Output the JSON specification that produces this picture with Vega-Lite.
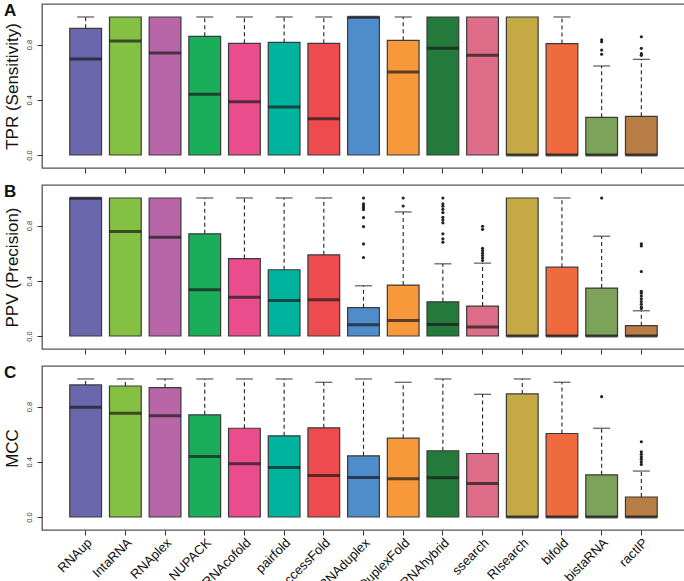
{
  "$schema": "https://vega.github.io/schema/vega-lite/v6.json",
  "padding": {"left": 2, "top": 1, "right": 1, "bottom": 0},
  "spacing": 7,
  "config": {
    "font": "Liberation Sans",
    "view": {"stroke": "#555555", "strokeWidth": 1.3},
    "axis": {"grid": false, "domain": false, "tickColor": "#333333", "tickSize": 5, "labelColor": "#333333", "titleColor": "#111111"},
    "axisY": {"labelOverlap": false, "labelBound": false, "labelAngle": -90, "labelAlign": "center", "labelBaseline": "bottom", "labelFontSize": 7.5, "labelPadding": 4, "titleFontSize": 17, "titleFontWeight": "normal", "titlePadding": 4},
    "title": {"anchor": "start", "frame": "group", "fontSize": 17, "fontWeight": "bold", "color": "#111111", "baseline": "top", "offset": 0, "dx": -38, "dy": 20}
  },
  "datasets": {
    "boxes": [
      {"panel": "A", "tool": "RNAup", "q1": 0, "median": 0.696, "q3": 0.918, "whisk": 1.0},
      {"panel": "A", "tool": "IntaRNA", "q1": 0, "median": 0.826, "q3": 1.0, "whisk": 1.0},
      {"panel": "A", "tool": "RNAplex", "q1": 0, "median": 0.739, "q3": 1.0, "whisk": 1.0},
      {"panel": "A", "tool": "NUPACK", "q1": 0, "median": 0.44, "q3": 0.86, "whisk": 1.0},
      {"panel": "A", "tool": "RNAcofold", "q1": 0, "median": 0.386, "q3": 0.809, "whisk": 1.0},
      {"panel": "A", "tool": "pairfold", "q1": 0, "median": 0.348, "q3": 0.816, "whisk": 1.0},
      {"panel": "A", "tool": "AccessFold", "q1": 0, "median": 0.263, "q3": 0.809, "whisk": 1.0},
      {"panel": "A", "tool": "RNAduplex", "q1": 0, "median": 0.998, "q3": 1.0, "whisk": 1.0},
      {"panel": "A", "tool": "DuplexFold", "q1": 0, "median": 0.601, "q3": 0.831, "whisk": 1.0},
      {"panel": "A", "tool": "RNAhybrid", "q1": 0, "median": 0.773, "q3": 1.0, "whisk": 1.0},
      {"panel": "A", "tool": "ssearch", "q1": 0, "median": 0.722, "q3": 1.0, "whisk": 1.0},
      {"panel": "A", "tool": "RIsearch", "q1": 0, "median": 0.0, "q3": 1.0, "whisk": 1.0},
      {"panel": "A", "tool": "bifold", "q1": 0, "median": 0.0, "q3": 0.807, "whisk": 1.0},
      {"panel": "A", "tool": "bistaRNA", "q1": 0, "median": 0.0, "q3": 0.273, "whisk": 0.645},
      {"panel": "A", "tool": "ractIP", "q1": 0, "median": 0.0, "q3": 0.28, "whisk": 0.693},
      {"panel": "B", "tool": "RNAup", "q1": 0, "median": 0.998, "q3": 1.0, "whisk": 1.0},
      {"panel": "B", "tool": "IntaRNA", "q1": 0, "median": 0.757, "q3": 1.0, "whisk": 1.0},
      {"panel": "B", "tool": "RNAplex", "q1": 0, "median": 0.716, "q3": 1.0, "whisk": 1.0},
      {"panel": "B", "tool": "NUPACK", "q1": 0, "median": 0.335, "q3": 0.74, "whisk": 1.0},
      {"panel": "B", "tool": "RNAcofold", "q1": 0, "median": 0.28, "q3": 0.561, "whisk": 1.0},
      {"panel": "B", "tool": "pairfold", "q1": 0, "median": 0.258, "q3": 0.48, "whisk": 1.0},
      {"panel": "B", "tool": "AccessFold", "q1": 0, "median": 0.263, "q3": 0.588, "whisk": 1.0},
      {"panel": "B", "tool": "RNAduplex", "q1": 0, "median": 0.082, "q3": 0.205, "whisk": 0.364},
      {"panel": "B", "tool": "DuplexFold", "q1": 0, "median": 0.113, "q3": 0.369, "whisk": 0.899},
      {"panel": "B", "tool": "RNAhybrid", "q1": 0, "median": 0.084, "q3": 0.248, "whisk": 0.523},
      {"panel": "B", "tool": "ssearch", "q1": 0, "median": 0.065, "q3": 0.217, "whisk": 0.528},
      {"panel": "B", "tool": "RIsearch", "q1": 0, "median": 0.0, "q3": 1.0, "whisk": 1.0},
      {"panel": "B", "tool": "bifold", "q1": 0, "median": 0.0, "q3": 0.499, "whisk": 1.0},
      {"panel": "B", "tool": "bistaRNA", "q1": 0, "median": 0.0, "q3": 0.347, "whisk": 0.723},
      {"panel": "B", "tool": "ractIP", "q1": 0, "median": 0.0, "q3": 0.075, "whisk": 0.183},
      {"panel": "C", "tool": "RNAup", "q1": 0, "median": 0.795, "q3": 0.957, "whisk": 1.0},
      {"panel": "C", "tool": "IntaRNA", "q1": 0, "median": 0.752, "q3": 0.949, "whisk": 1.0},
      {"panel": "C", "tool": "RNAplex", "q1": 0, "median": 0.733, "q3": 0.937, "whisk": 1.0},
      {"panel": "C", "tool": "NUPACK", "q1": 0, "median": 0.439, "q3": 0.74, "whisk": 1.0},
      {"panel": "C", "tool": "RNAcofold", "q1": 0, "median": 0.386, "q3": 0.643, "whisk": 1.0},
      {"panel": "C", "tool": "pairfold", "q1": 0, "median": 0.359, "q3": 0.588, "whisk": 1.0},
      {"panel": "C", "tool": "AccessFold", "q1": 0, "median": 0.301, "q3": 0.646, "whisk": 0.976},
      {"panel": "C", "tool": "RNAduplex", "q1": 0, "median": 0.287, "q3": 0.443, "whisk": 1.0},
      {"panel": "C", "tool": "DuplexFold", "q1": 0, "median": 0.277, "q3": 0.571, "whisk": 0.976},
      {"panel": "C", "tool": "RNAhybrid", "q1": 0, "median": 0.284, "q3": 0.48, "whisk": 1.0},
      {"panel": "C", "tool": "ssearch", "q1": 0, "median": 0.243, "q3": 0.46, "whisk": 0.889},
      {"panel": "C", "tool": "RIsearch", "q1": 0, "median": 0.0, "q3": 0.892, "whisk": 1.0},
      {"panel": "C", "tool": "bifold", "q1": 0, "median": 0.0, "q3": 0.605, "whisk": 0.976},
      {"panel": "C", "tool": "bistaRNA", "q1": 0, "median": 0.0, "q3": 0.306, "whisk": 0.643},
      {"panel": "C", "tool": "ractIP", "q1": 0, "median": 0.0, "q3": 0.145, "whisk": 0.333}
    ],
    "outliers": [
      {"panel": "A", "tool": "bistaRNA", "value": 0.835},
      {"panel": "A", "tool": "bistaRNA", "value": 0.82},
      {"panel": "A", "tool": "bistaRNA", "value": 0.76},
      {"panel": "A", "tool": "bistaRNA", "value": 0.73},
      {"panel": "A", "tool": "ractIP", "value": 0.857},
      {"panel": "A", "tool": "ractIP", "value": 0.773},
      {"panel": "A", "tool": "ractIP", "value": 0.734},
      {"panel": "A", "tool": "ractIP", "value": 0.722},
      {"panel": "B", "tool": "RNAduplex", "value": 1.0},
      {"panel": "B", "tool": "RNAduplex", "value": 0.957},
      {"panel": "B", "tool": "RNAduplex", "value": 0.942},
      {"panel": "B", "tool": "RNAduplex", "value": 0.93},
      {"panel": "B", "tool": "RNAduplex", "value": 0.916},
      {"panel": "B", "tool": "RNAduplex", "value": 0.858},
      {"panel": "B", "tool": "RNAduplex", "value": 0.793},
      {"panel": "B", "tool": "RNAduplex", "value": 0.667},
      {"panel": "B", "tool": "RNAduplex", "value": 0.569},
      {"panel": "B", "tool": "DuplexFold", "value": 1.0},
      {"panel": "B", "tool": "DuplexFold", "value": 0.942},
      {"panel": "B", "tool": "RNAhybrid", "value": 1.0},
      {"panel": "B", "tool": "RNAhybrid", "value": 0.957},
      {"panel": "B", "tool": "RNAhybrid", "value": 0.94},
      {"panel": "B", "tool": "RNAhybrid", "value": 0.918},
      {"panel": "B", "tool": "RNAhybrid", "value": 0.894},
      {"panel": "B", "tool": "RNAhybrid", "value": 0.86},
      {"panel": "B", "tool": "RNAhybrid", "value": 0.84},
      {"panel": "B", "tool": "RNAhybrid", "value": 0.82},
      {"panel": "B", "tool": "RNAhybrid", "value": 0.74},
      {"panel": "B", "tool": "RNAhybrid", "value": 0.704},
      {"panel": "B", "tool": "RNAhybrid", "value": 0.68},
      {"panel": "B", "tool": "ssearch", "value": 0.795},
      {"panel": "B", "tool": "ssearch", "value": 0.773},
      {"panel": "B", "tool": "ssearch", "value": 0.636},
      {"panel": "B", "tool": "ssearch", "value": 0.619},
      {"panel": "B", "tool": "ssearch", "value": 0.6},
      {"panel": "B", "tool": "ssearch", "value": 0.583},
      {"panel": "B", "tool": "ssearch", "value": 0.566},
      {"panel": "B", "tool": "ssearch", "value": 0.547},
      {"panel": "B", "tool": "bistaRNA", "value": 1.0},
      {"panel": "B", "tool": "ractIP", "value": 0.667},
      {"panel": "B", "tool": "ractIP", "value": 0.653},
      {"panel": "B", "tool": "ractIP", "value": 0.467},
      {"panel": "B", "tool": "ractIP", "value": 0.323},
      {"panel": "B", "tool": "ractIP", "value": 0.31},
      {"panel": "B", "tool": "ractIP", "value": 0.29},
      {"panel": "B", "tool": "ractIP", "value": 0.27},
      {"panel": "B", "tool": "ractIP", "value": 0.25},
      {"panel": "B", "tool": "ractIP", "value": 0.23},
      {"panel": "B", "tool": "ractIP", "value": 0.21},
      {"panel": "B", "tool": "ractIP", "value": 0.2},
      {"panel": "C", "tool": "bistaRNA", "value": 0.872},
      {"panel": "C", "tool": "ractIP", "value": 0.545},
      {"panel": "C", "tool": "ractIP", "value": 0.472},
      {"panel": "C", "tool": "ractIP", "value": 0.455},
      {"panel": "C", "tool": "ractIP", "value": 0.436},
      {"panel": "C", "tool": "ractIP", "value": 0.419},
      {"panel": "C", "tool": "ractIP", "value": 0.4},
      {"panel": "C", "tool": "ractIP", "value": 0.381}
    ]
  },
  "vconcat": [
    {
      "width": 643, "height": 164,
      "title": {"text": "A"},
      "encoding": {
        "x": {"field": "tool", "type": "nominal", "sort": null,
              "scale": {"type": "band", "paddingInner": 0.2, "paddingOuter": 0.7, "domain": ["RNAup","IntaRNA","RNAplex","NUPACK","RNAcofold","pairfold","AccessFold","RNAduplex","DuplexFold","RNAhybrid","ssearch","RIsearch","bifold","bistaRNA","ractIP"]},
              "axis": {"labels": false, "title": null}}
      },
      "layer": [
        {"data": {"name": "boxes"}, "transform": [{"filter": "datum.panel === 'A'"}],
         "mark": {"type": "bar", "stroke": "#3a3a3a", "strokeWidth": 1.2},
         "encoding": {
           "y": {"field": "q1", "type": "quantitative", "scale": {"domain": [-0.094, 1.094], "nice": false, "zero": false},
                 "axis": {"values": [0, 0.2, 0.4, 0.6, 0.8, 1.0], "format": ".1f", "title": "TPR (Sensitivity)"}},
           "y2": {"field": "q3"},
           "color": {"field": "tool", "type": "nominal", "legend": null,
                     "scale": {"domain": ["RNAup","IntaRNA","RNAplex","NUPACK","RNAcofold","pairfold","AccessFold","RNAduplex","DuplexFold","RNAhybrid","ssearch","RIsearch","bifold","bistaRNA","ractIP"],
                               "range": ["#6a67ad","#84c041","#b866a7","#1aae5a","#eb4d8c","#00b39e","#ee4b4f","#4f8ccb","#f7983a","#237a3b","#dd6d89","#c4a945","#ef6a3c","#7da35a","#b87c45"]}}}},
        {"data": {"name": "boxes"}, "transform": [{"filter": "datum.panel === 'A' && datum.whisk > datum.q3"}],
         "mark": {"type": "rule", "strokeDash": [4, 3], "color": "#222222", "strokeWidth": 1.1},
         "encoding": {"y": {"field": "q3", "type": "quantitative"}, "y2": {"field": "whisk"}}},
        {"data": {"name": "boxes"}, "transform": [{"filter": "datum.panel === 'A' && datum.whisk > datum.q3"}],
         "mark": {"type": "tick", "size": 17, "thickness": 1.3, "color": "#222222"},
         "encoding": {"y": {"field": "whisk", "type": "quantitative"}}},
        {"data": {"name": "boxes"}, "transform": [{"filter": "datum.panel === 'A'"}],
         "mark": {"type": "tick", "size": 32, "thickness": 3, "color": "#1a1a1a"},
         "encoding": {"y": {"field": "median", "type": "quantitative"}}},
        {"data": {"name": "outliers"}, "transform": [{"filter": "datum.panel === 'A'"}],
         "mark": {"type": "circle", "size": 10, "color": "#222222", "opacity": 1},
         "encoding": {"y": {"field": "value", "type": "quantitative"}}}
      ]
    },
    {
      "width": 643, "height": 164,
      "title": {"text": "B"},
      "encoding": {
        "x": {"field": "tool", "type": "nominal", "sort": null,
              "scale": {"type": "band", "paddingInner": 0.2, "paddingOuter": 0.7, "domain": ["RNAup","IntaRNA","RNAplex","NUPACK","RNAcofold","pairfold","AccessFold","RNAduplex","DuplexFold","RNAhybrid","ssearch","RIsearch","bifold","bistaRNA","ractIP"]},
              "axis": {"labels": false, "title": null}}
      },
      "layer": [
        {"data": {"name": "boxes"}, "transform": [{"filter": "datum.panel === 'B'"}],
         "mark": {"type": "bar", "stroke": "#3a3a3a", "strokeWidth": 1.2},
         "encoding": {
           "y": {"field": "q1", "type": "quantitative", "scale": {"domain": [-0.094, 1.094], "nice": false, "zero": false},
                 "axis": {"values": [0, 0.2, 0.4, 0.6, 0.8, 1.0], "format": ".1f", "title": "PPV (Precision)"}},
           "y2": {"field": "q3"},
           "color": {"field": "tool", "type": "nominal", "legend": null,
                     "scale": {"domain": ["RNAup","IntaRNA","RNAplex","NUPACK","RNAcofold","pairfold","AccessFold","RNAduplex","DuplexFold","RNAhybrid","ssearch","RIsearch","bifold","bistaRNA","ractIP"],
                               "range": ["#6a67ad","#84c041","#b866a7","#1aae5a","#eb4d8c","#00b39e","#ee4b4f","#4f8ccb","#f7983a","#237a3b","#dd6d89","#c4a945","#ef6a3c","#7da35a","#b87c45"]}}}},
        {"data": {"name": "boxes"}, "transform": [{"filter": "datum.panel === 'B' && datum.whisk > datum.q3"}],
         "mark": {"type": "rule", "strokeDash": [4, 3], "color": "#222222", "strokeWidth": 1.1},
         "encoding": {"y": {"field": "q3", "type": "quantitative"}, "y2": {"field": "whisk"}}},
        {"data": {"name": "boxes"}, "transform": [{"filter": "datum.panel === 'B' && datum.whisk > datum.q3"}],
         "mark": {"type": "tick", "size": 17, "thickness": 1.3, "color": "#222222"},
         "encoding": {"y": {"field": "whisk", "type": "quantitative"}}},
        {"data": {"name": "boxes"}, "transform": [{"filter": "datum.panel === 'B'"}],
         "mark": {"type": "tick", "size": 32, "thickness": 3, "color": "#1a1a1a"},
         "encoding": {"y": {"field": "median", "type": "quantitative"}}},
        {"data": {"name": "outliers"}, "transform": [{"filter": "datum.panel === 'B'"}],
         "mark": {"type": "circle", "size": 10, "color": "#222222", "opacity": 1},
         "encoding": {"y": {"field": "value", "type": "quantitative"}}}
      ]
    },
    {
      "width": 643, "height": 164,
      "title": {"text": "C"},
      "encoding": {
        "x": {"field": "tool", "type": "nominal", "sort": null,
              "scale": {"type": "band", "paddingInner": 0.2, "paddingOuter": 0.7, "domain": ["RNAup","IntaRNA","RNAplex","NUPACK","RNAcofold","pairfold","AccessFold","RNAduplex","DuplexFold","RNAhybrid","ssearch","RIsearch","bifold","bistaRNA","ractIP"]},
              "axis": {"labelAngle": -45, "labelFontSize": 13, "labelColor": "#111111", "labelPadding": 1, "labelDx": 11, "labelDy": 3, "title": null}}
      },
      "layer": [
        {"data": {"name": "boxes"}, "transform": [{"filter": "datum.panel === 'C'"}],
         "mark": {"type": "bar", "stroke": "#3a3a3a", "strokeWidth": 1.2},
         "encoding": {
           "y": {"field": "q1", "type": "quantitative", "scale": {"domain": [-0.094, 1.094], "nice": false, "zero": false},
                 "axis": {"values": [0, 0.2, 0.4, 0.6, 0.8, 1.0], "format": ".1f", "title": "MCC"}},
           "y2": {"field": "q3"},
           "color": {"field": "tool", "type": "nominal", "legend": null,
                     "scale": {"domain": ["RNAup","IntaRNA","RNAplex","NUPACK","RNAcofold","pairfold","AccessFold","RNAduplex","DuplexFold","RNAhybrid","ssearch","RIsearch","bifold","bistaRNA","ractIP"],
                               "range": ["#6a67ad","#84c041","#b866a7","#1aae5a","#eb4d8c","#00b39e","#ee4b4f","#4f8ccb","#f7983a","#237a3b","#dd6d89","#c4a945","#ef6a3c","#7da35a","#b87c45"]}}}},
        {"data": {"name": "boxes"}, "transform": [{"filter": "datum.panel === 'C' && datum.whisk > datum.q3"}],
         "mark": {"type": "rule", "strokeDash": [4, 3], "color": "#222222", "strokeWidth": 1.1},
         "encoding": {"y": {"field": "q3", "type": "quantitative"}, "y2": {"field": "whisk"}}},
        {"data": {"name": "boxes"}, "transform": [{"filter": "datum.panel === 'C' && datum.whisk > datum.q3"}],
         "mark": {"type": "tick", "size": 17, "thickness": 1.3, "color": "#222222"},
         "encoding": {"y": {"field": "whisk", "type": "quantitative"}}},
        {"data": {"name": "boxes"}, "transform": [{"filter": "datum.panel === 'C'"}],
         "mark": {"type": "tick", "size": 32, "thickness": 3, "color": "#1a1a1a"},
         "encoding": {"y": {"field": "median", "type": "quantitative"}}},
        {"data": {"name": "outliers"}, "transform": [{"filter": "datum.panel === 'C'"}],
         "mark": {"type": "circle", "size": 10, "color": "#222222", "opacity": 1},
         "encoding": {"y": {"field": "value", "type": "quantitative"}}}
      ]
    }
  ]
}
